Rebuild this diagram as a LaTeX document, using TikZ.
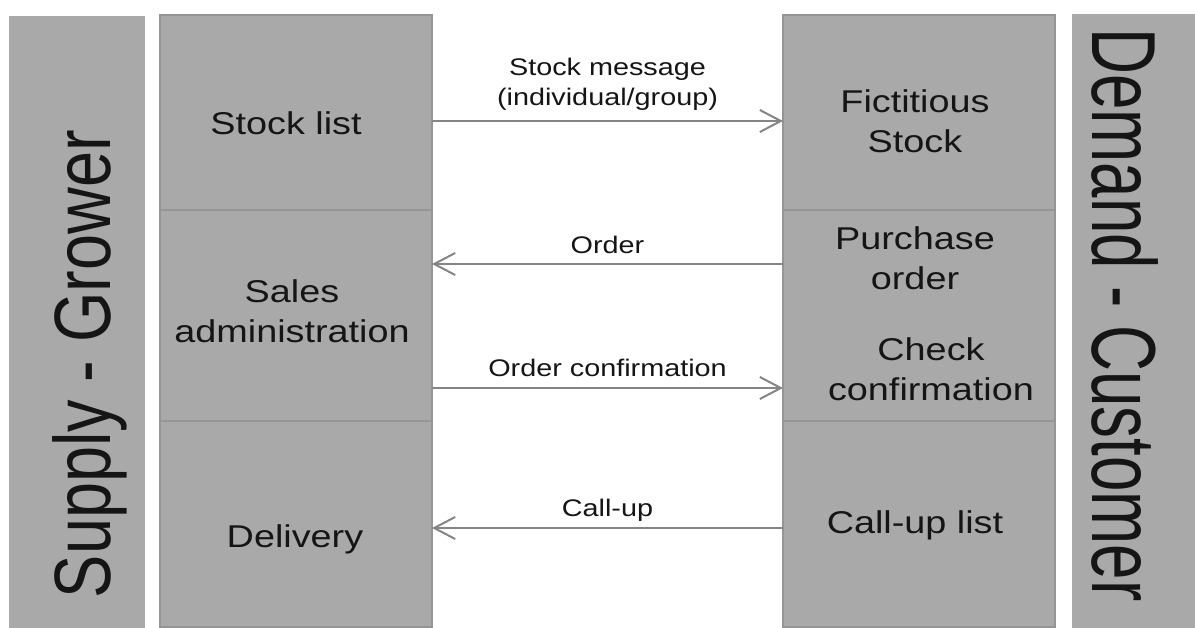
\documentclass[tikz,border=0pt]{standalone}
\usepackage{fontspec}
\setmainfont{Liberation Sans}
\newfontfamily\cellfont{Liberation Sans}[FakeStretch=1.2]
\newfontfamily\growerfont{Liberation Sans}[FakeStretch=0.81]
\newfontfamily\customerfont{Liberation Sans}[FakeStretch=0.70]
\usetikzlibrary{arrows.meta}

\definecolor{cellgray}{HTML}{A9A9A9}
\definecolor{cellline}{HTML}{959595}
\definecolor{flowgray}{HTML}{858585}
\definecolor{inkgray}{HTML}{151515}

\tikzset{
  cell/.style={draw=cellline, line width=2.2pt, fill=cellgray,
    minimum width=272pt, inner sep=0pt, outer sep=0pt},
  side/.style={fill=cellgray, inner sep=0pt, outer sep=0pt},
  celltext/.style={font=\cellfont\fontsize{31.5}{40}\selectfont,
    align=center, text=inkgray, inner sep=0pt},
  msg/.style={font=\cellfont\fontsize{24}{30}\selectfont, align=center,
    text=inkgray, inner sep=0pt, text depth=0pt, anchor=south},
  flow/.style={draw=flowgray, line width=2pt,
    -{Straight Barb[length=21pt,width=22pt]}},
}

\begin{document}
\begin{tikzpicture}[x=1pt, y=-1pt]
  \useasboundingbox (0,0) rectangle (1195,628);

  % side bars
  \node[side, minimum width=136pt, minimum height=612pt] (supply) at (77,322) {};
  \node[side, minimum width=124pt, minimum height=614pt] (demand) at (1134,321) {};
  \node[rotate=90, anchor=base, inner sep=0pt, text=inkgray,
    font=\growerfont\fontsize{80}{90}\selectfont] (supplytxt) at (110,364) {Supply - Grower};
  \node[rotate=-90, anchor=base, inner sep=0pt, text=inkgray,
    font=\customerfont\fontsize{91}{100}\selectfont] (demandtxt) at (1092,315) {Demand - Customer};

  % grower column
  \node[cell, minimum height=195pt] (stock) at (296,112.5) {};
  \node[cell, minimum height=211pt] (sales) at (296,315.5) {};
  \node[cell, minimum height=206pt] (deliv) at (296,524) {};
  \node[celltext, anchor=base] (stocktxt) at (286,135) {Stock list};
  \node[celltext] (salestxt) at (292,311.5) {Sales\\administration};
  \node[celltext, anchor=base] (delivtxt) at (295,547) {Delivery};

  % customer column
  \node[cell, minimum height=195pt] (fict) at (919,112.5) {};
  \node[cell, minimum height=211pt] (purch) at (919,315.5) {};
  \node[cell, minimum height=206pt] (callup) at (919,524) {};
  \node[celltext] (ficttxt) at (915,121) {Fictitious\\Stock};
  \node[celltext] (purchtxt) at (915,258.5) {Purchase\\order};
  \node[celltext] (checktxt) at (931,369.5) {Check\\confirmation};
  \node[celltext, anchor=base] (calluptxt) at (915,533) {Call-up list};

  % messages
  \coordinate (m1) at (0,121);
  \coordinate (m2) at (0,264);
  \coordinate (m3) at (0,388);
  \coordinate (m4) at (0,528);
  \draw[flow] (stock.east |- m1) -- (fict.west |- m1)
    node[msg, midway, yshift=14pt] (stockmsg) {Stock message\\(individual/group)};
  \draw[flow] (purch.west |- m2) -- (sales.east |- m2)
    node[msg, midway, yshift=9pt] (ordermsg) {Order};
  \draw[flow] (sales.east |- m3) -- (purch.west |- m3)
    node[msg, midway, yshift=10pt] (confmsg) {Order confirmation};
  \draw[flow] (callup.west |- m4) -- (deliv.east |- m4)
    node[msg, midway, yshift=11pt] (callmsg) {Call-up};
\end{tikzpicture}
\end{document}
